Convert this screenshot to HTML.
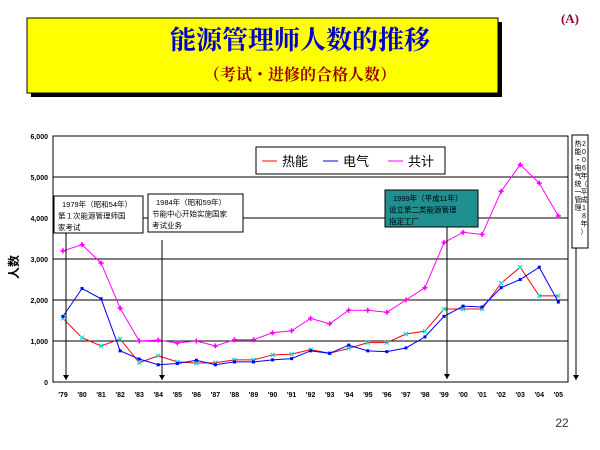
<!DOCTYPE html>
<html><head><meta charset="utf-8">
<style>
body{margin:0;background:#fff;width:600px;height:450px;overflow:hidden;font-family:"Liberation Sans","Noto Sans CJK SC",sans-serif;}
svg{display:block}
</style></head>
<body>
<svg width="600" height="450" xmlns="http://www.w3.org/2000/svg">
<rect x="31" y="22" width="471" height="75" fill="#000"/>
<rect x="27" y="18" width="471" height="75" fill="#ffff00" stroke="#000" stroke-width="1"/>
<text x="300" y="49" text-anchor="middle" font-size="26" font-weight="bold" fill="#0000cc" font-family="'Liberation Serif','Noto Serif CJK SC',serif">能源管理师人数的推移</text>
<text x="300" y="80" text-anchor="middle" font-size="16" font-weight="bold" fill="#990000" font-family="'Liberation Serif','Noto Serif CJK SC',serif">（考试・进修的合格人数）</text>
<text x="570" y="23" text-anchor="middle" font-size="13" font-weight="bold" fill="#990033" font-family="'Liberation Serif',serif">(A)</text>
<text x="22" y="271" font-size="12" font-weight="bold" text-anchor="middle" transform="rotate(-90 18 271)" font-family="'Liberation Sans','Noto Sans CJK SC',sans-serif">人数</text>
<text x="562" y="427" text-anchor="middle" font-size="12" fill="#333">22</text>
<g id="chart"></g>
</svg>
<script>
const years=["'79","'80","'81","'82","'83","'84","'85","'86","'87","'88","'89","'90","'91","'92","'93","'94","'95","'96","'97","'98","'99","'00","'01","'02","'03","'04","'05"];
const thermal=[1550,1080,880,1050,470,640,490,460,470,540,540,660,680,790,700,820,960,960,1170,1240,1780,1780,1780,2410,2800,2100,2100];
const electric=[1600,2280,2030,760,560,420,450,530,420,490,490,540,570,760,700,900,760,740,830,1100,1600,1850,1830,2300,2500,2800,1950];
const total=[3200,3350,2900,1800,1000,1020,950,1000,880,1030,1030,1200,1250,1550,1420,1750,1750,1700,2000,2300,3400,3650,3600,4650,5300,4850,4050];
const yTicks=[0,1000,2000,3000,4000,5000,6000];
const yTickLabels=["0","1,000","2,000","3,000","4,000","5,000","6,000"];

const NS="http://www.w3.org/2000/svg";
const g=document.getElementById('chart');
const L=53,R=568,T=136,B=382,X0=63,DX=19.05;
const xs=i=>X0+i*DX;
const ys=v=>B-(v/6000)*(B-T);
function mk(tag,attrs,parent){const e=document.createElementNS(NS,tag);for(const k in attrs)e.setAttribute(k,attrs[k]);(parent||g).appendChild(e);return e;}

yTicks.forEach((v,i)=>{
  if(v>0){const l=mk('line',{x1:L,x2:R,y1:ys(v),y2:ys(v),stroke:'#000','stroke-width':1});
  
  }
  const t=mk('text',{x:48,y:ys(v)+3,'text-anchor':'end','font-size':7,'font-weight':'bold'});
  t.textContent=yTickLabels[i];
  
  
});
const frame=mk('rect',{x:L,y:T,width:R-L,height:B-T,fill:'none',stroke:'#000','stroke-width':1});


years.forEach((y,i)=>{
  const t=mk('text',{x:xs(i),y:397,'text-anchor':'middle','font-size':7,'font-weight':'bold'});
  t.textContent=y;
  
  
});

function series(data,color,mcol,shape,name){
  const pts=data.map((v,i)=>xs(i)+','+ys(v)).join(' ');
  const p=mk('polyline',{points:pts,fill:'none',stroke:color,'stroke-width':1});
  
  
  data.forEach((v,i)=>{
    const x=xs(i),y=ys(v);let m;
    if(shape==='x'){m=mk('path',{d:`M${x-2},${y-2}L${x+2},${y+2}M${x-2},${y+2}L${x+2},${y-2}`,stroke:mcol,'stroke-width':1.2});}
    else if(shape==='sq'){m=mk('rect',{x:x-1.5,y:y-1.5,width:3,height:3,fill:mcol});}
    else {m=mk('path',{d:`M${x-2.5},${y}L${x+2.5},${y}M${x},${y-2.5}L${x},${y+2.5}`,stroke:mcol,'stroke-width':1.6});}
    
    
  });
}
series(total,'#ff00ff','#ff00ff','plus','total');
series(thermal,'#ff0000','#00e0e0','x','thermal');
series(electric,'#0000ff','#0000ff','sq','electric');

const lg=mk('g',{});


mk('rect',{x:256,y:147,width:189,height:27,fill:'#fff',stroke:'#000'},lg);
const items=[["热能",'#ff0000',262],["电气",'#0000ff',323],["共计",'#ff00ff',388]];
items.forEach(it=>{
  mk('line',{x1:it[2],x2:it[2]+15,y1:161,y2:161,stroke:it[1]},lg);
  const t=mk('text',{x:it[2]+20,y:166,'font-size':13},lg);
  t.textContent=it[0];
  
  
});

function box(x,y,w,h,fill,lines,name){
  const gg=mk('g',{});
  
  
  mk('rect',{x,y,width:w,height:h,fill,stroke:'#000'},gg);
  lines.forEach((s,i)=>{const t=mk('text',{x:x+(i==0?8:4),y:y+11+i*11.5,'font-size':7.5},gg);t.textContent=s;});
}
function arrow(x,y1,y2,name){
  const l=mk('line',{x1:x,x2:x,y1,y2,stroke:'#000'});
  
  
  mk('path',{d:`M${x-3},${y2-5}L${x+3},${y2-5}L${x},${y2}Z`,fill:'#000'});
}
arrow(66,233,380,'arrow-1979');
arrow(162,240,380,'arrow-1984');
arrow(447,225,379,'arrow-1999');
arrow(576,248,380,'arrow-2006');
box(54,196,89,37,'#fff',["1979年（昭和54年）","第１次能源管理师国","家考试"],'annotation-1979');
box(148,194,95,38,'#fff',["1984年（昭和59年）","节能中心开始实施国家","考试业务"],'annotation-1984');
box(385,190,93,37,'#1f8f8f',["1999年（平成11年）","设立第二类能源管理","指定工厂"],'annotation-1999');
const rb=mk('g',{});


mk('rect',{x:572,y:135,width:16,height:113,fill:'#fff',stroke:'#000'},rb);
const c1="热能・电气统一管理",c2="2006年（平成18年）";
[...c1].forEach((ch,i)=>{const t=mk('text',{x:578,y:146+i*8,'font-size':7,'text-anchor':'middle'},rb);t.textContent=ch;});
[...c2].forEach((ch,i)=>{const t=mk('text',{x:584,y:146+i*8,'font-size':7,'text-anchor':'middle'},rb);t.textContent=ch;});
</script>
</body></html>
